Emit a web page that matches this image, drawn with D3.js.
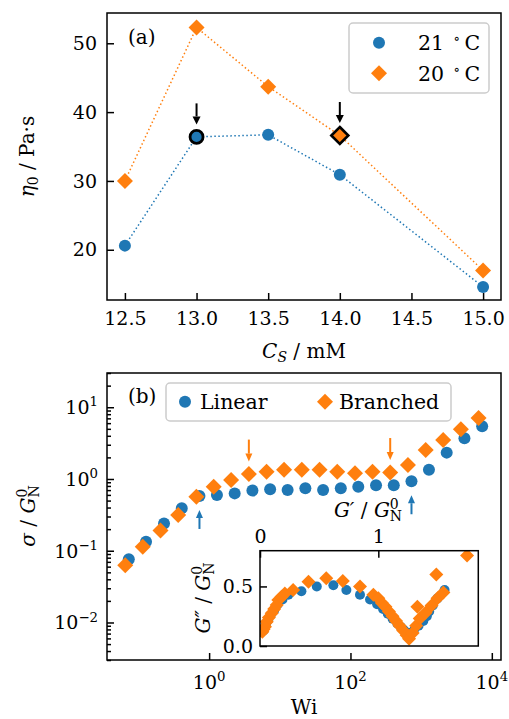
<!DOCTYPE html>
<html>
<head>
<meta charset="utf-8">
<script src="https://cdn.jsdelivr.net/npm/d3@7"></script>
<style>
  body { margin: 0; background: #fff; }
  text { font-family: "DejaVu Serif", serif; fill: #000; }
</style>
</head>
<body>
<svg id="fig" width="509" height="719"></svg>
<script>
// ---- Panel (a): zero-shear viscosity vs. salt concentration ----
const saltConc = [12.5, 13.0, 13.5, 14.0, 15.0];
const eta21 = [20.6, 36.4, 36.7, 30.9, 14.6];
const eta20 = [30.0, 52.3, 43.7, 36.6, 17.0];
const concTicks = [12.5, 13.0, 13.5, 14.0, 14.5, 15.0];
const etaTicks = [20, 30, 40, 50];
const marked21 = [1];   // highlighted sample, 21 °C
const marked20 = [3];   // highlighted sample, 20 °C

// ---- Panel (b): flow curves, stress vs. Weissenberg number ----
const wiLinear = [0.073, 0.128, 0.23, 0.41, 0.73, 1.29, 2.3, 4.1, 7.3, 12.9, 23, 41, 73, 129, 230, 410, 730, 1290, 2300, 4100, 7300];
const sigmaLinear = [0.076, 0.133, 0.24, 0.39, 0.58, 0.60, 0.63, 0.69, 0.72, 0.70, 0.74, 0.70, 0.74, 0.78, 0.82, 0.82, 0.93, 1.34, 2.33, 3.7, 5.43];
const wiBranched = [0.065, 0.115, 0.205, 0.365, 0.66, 1.16, 2.05, 3.65, 6.5, 11.5, 20.5, 36.5, 65, 116, 205, 365, 650, 1160, 2050, 3650, 6500];
const sigmaBranched = [0.063, 0.114, 0.191, 0.315, 0.566, 0.78, 0.97, 1.17, 1.26, 1.34, 1.34, 1.34, 1.26, 1.2, 1.26, 1.23, 1.57, 2.54, 3.5, 4.94, 7.1];
const wiTicks = [1, 100, 10000];
const sigmaTicks = [0.01, 0.1, 1, 10];
const arrowsLinear = [4, 16];     // arrows pointing up at these points
const arrowsBranched = [7, 15];   // arrows pointing down at these points

// ---- Inset: G'' vs G' ----
const gpLinear  = [0.03, 0.05, 0.07, 0.09, 0.12, 0.15, 0.19, 0.24, 0.35, 0.48, 0.62, 0.73, 0.845, 0.93, 0.99, 1.04, 1.08, 1.12, 1.16, 1.19, 1.22, 1.26, 1.30, 1.34, 1.38, 1.41, 1.43, 1.46, 1.50, 1.56];
const gppLinear = [0.13, 0.18, 0.22, 0.26, 0.30, 0.35, 0.39, 0.43, 0.46, 0.50, 0.51, 0.47, 0.43, 0.39, 0.35, 0.31, 0.27, 0.23, 0.19, 0.16, 0.13, 0.11, 0.13, 0.17, 0.21, 0.25, 0.29, 0.34, 0.40, 0.47];
const gpBranched  = [0.02, 0.03, 0.042, 0.057, 0.075, 0.099, 0.12, 0.141, 0.155, 0.183, 0.21, 0.28, 0.41, 0.56, 0.70, 0.845, 0.958, 1.0, 1.03, 1.06, 1.09, 1.12, 1.15, 1.18, 1.21, 1.24, 1.26, 1.29, 1.32, 1.35, 1.33, 1.40, 1.45, 1.50, 1.55, 1.49, 1.75];
const gppBranched = [0.12, 0.14, 0.162, 0.204, 0.24, 0.275, 0.31, 0.344, 0.386, 0.414, 0.44, 0.47, 0.54, 0.568, 0.545, 0.50, 0.43, 0.40, 0.36, 0.33, 0.29, 0.25, 0.21, 0.17, 0.13, 0.09, 0.06, 0.11, 0.17, 0.23, 0.33, 0.28, 0.34, 0.40, 0.45, 0.60, 0.76];
const gpTicks = [0, 1];
const gppTicks = [0.0, 0.5];

// ---- styling ----
const blue = "#1f77b4", orange = "#ff7f0e";
const TICK_FS = 19, LABEL_FS = 20, LEGEND_FS = 20.5;
const svg = d3.select("#fig");
svg.append("rect").attr("width", 509).attr("height", 719).attr("fill", "#fff");
const defs = svg.append("defs");

const diamond = s => `M0,${-s}L${s},0L0,${s}L${-s},0Z`;

function clip(id, box) {
  defs.append("clipPath").attr("id", id).append("rect")
    .attr("x", box.l).attr("y", box.t).attr("width", box.r - box.l).attr("height", box.b - box.t);
  return `url(#${id})`;
}

// Text with italic pieces, sub/superscripts and stacked sub+sup
function mathText(parent, parts, size) {
  const t = parent.append("text").style("font-size", size + "px");
  let cur = 0, prevLen = 0;
  parts.forEach(p => {
    const fs = p.shift ? size * 0.7 : size;
    const target = p.shift === "sup" ? -0.42 * size : p.shift === "sub" ? 0.2 * size : 0;
    const ts = t.append("tspan").text(p.t)
      .attr("dy", target - cur)
      .style("font-size", fs + "px")
      .style("font-style", p.it ? "italic" : "normal");
    if (p.stack) ts.attr("dx", -prevLen);
    cur = target;
    prevLen = ts.node().getComputedTextLength();
  });
  return t;
}

function styleAxis(g) {
  g.select(".domain").remove();
  g.attr("font-family", "DejaVu Serif").attr("font-size", TICK_FS).attr("color", "#000");
  g.selectAll(".tick line").attr("stroke-width", 1.5);
}

function arrow(g, x, yTip, dir, color, len, headLen, headW) {
  const yTail = yTip - dir * len, yBase = yTip - dir * headLen;
  g.append("line").attr("x1", x).attr("x2", x).attr("y1", yTail).attr("y2", yBase)
    .attr("stroke", color).attr("stroke-width", 2);
  g.append("path").attr("d", `M${x},${yTip}L${x - headW},${yBase}L${x + headW},${yBase}Z`).attr("fill", color);
}

function legendBox(g, x, y, w, h) {
  g.append("rect").attr("x", x).attr("y", y).attr("width", w).attr("height", h)
    .attr("rx", 4).attr("fill", "#fff").attr("fill-opacity", 0.85)
    .attr("stroke", "#cccccc").attr("stroke-width", 1.5);
}

// =================== Panel (a) ===================
const A = { l: 107, r: 501, t: 13, b: 300 };
const xA = d3.scaleLinear().domain([12.375, 15.125]).range([A.l, A.r]);
const yA = d3.scaleLinear().domain([12.7, 54.4]).range([A.b, A.t]);
const gA = svg.append("g");

gA.append("g").attr("transform", `translate(0,${A.b})`)
  .call(d3.axisBottom(xA).tickValues(concTicks).tickFormat(d3.format(".1f"))
    .tickSizeInner(-7).tickSizeOuter(0).tickPadding(12))
  .call(styleAxis);
gA.append("g").attr("transform", `translate(${A.l},0)`)
  .call(d3.axisLeft(yA).tickValues(etaTicks).tickFormat(d3.format("d"))
    .tickSizeInner(-7).tickSizeOuter(0).tickPadding(10))
  .call(styleAxis);

const plotA = gA.append("g").attr("clip-path", clip("clipA", A));
const lineA = (ys) => d3.line().x((d, i) => xA(saltConc[i])).y(d => yA(d))(ys);
plotA.append("path").attr("d", lineA(eta21)).attr("fill", "none").attr("stroke", blue)
  .attr("stroke-width", 1.5).attr("stroke-dasharray", "1.5 2.5");
plotA.append("path").attr("d", lineA(eta20)).attr("fill", "none").attr("stroke", orange)
  .attr("stroke-width", 1.5).attr("stroke-dasharray", "1.5 2.5");

eta21.forEach((v, i) => {
  const hl = marked21.includes(i);
  plotA.append("circle").attr("cx", xA(saltConc[i])).attr("cy", yA(v))
    .attr("r", hl ? 6.5 : 6).attr("fill", blue)
    .attr("stroke", hl ? "#000" : "none").attr("stroke-width", hl ? 2.8 : 0);
});
eta20.forEach((v, i) => {
  const hl = marked20.includes(i);
  plotA.append("path").attr("transform", `translate(${xA(saltConc[i])},${yA(v)})`)
    .attr("d", diamond(hl ? 8.5 : 8)).attr("fill", orange)
    .attr("stroke", hl ? "#000" : "none").attr("stroke-width", hl ? 2.6 : 0);
});
marked21.forEach(i => arrow(gA, xA(saltConc[i]), yA(eta21[i]) - 12.5, 1, "#000", 21, 8, 4));
marked20.forEach(i => arrow(gA, xA(saltConc[i]), yA(eta20[i]) - 12.5, 1, "#000", 21, 8, 4));

gA.append("text").attr("x", 128).attr("y", 44).style("font-size", LABEL_FS + "px").text("(a)");

// legend (a)
const legA = gA.append("g");
legendBox(legA, 349, 23, 140, 70);
legA.append("circle").attr("cx", 379).attr("cy", 42.7).attr("r", 6).attr("fill", blue);
legA.append("path").attr("transform", "translate(379,73.3)").attr("d", diamond(8)).attr("fill", orange);
[["21", 42.7], ["20", 73.3]].forEach(([n, y]) => {
  const t = legA.append("text").attr("x", 418).attr("y", y).attr("dy", "0.36em").style("font-size", LEGEND_FS + "px");
  t.append("tspan").text(n + " ");
  t.append("tspan").text("∘").attr("dy", -7).attr("dx", 3).style("font-size", "14px");
  t.append("tspan").text("C").attr("dy", 7).attr("dx", 4);
});

gA.append("rect").attr("x", A.l).attr("y", A.t).attr("width", A.r - A.l).attr("height", A.b - A.t)
  .attr("fill", "none").attr("stroke", "#000").attr("stroke-width", 1.5);

// axis labels (a)
mathText(gA.append("g").attr("transform", "translate(304,358)"),
  [{ t: "C", it: true }, { t: "S", it: true, shift: "sub" }, { t: " / mM" }], LABEL_FS)
  .attr("text-anchor", "middle");
mathText(gA.append("g").attr("transform", "translate(34,156.5) rotate(-90)"),
  [{ t: "η", it: true }, { t: "0", shift: "sub" }, { t: " / Pa·s" }], LABEL_FS)
  .attr("text-anchor", "middle");

// =================== Panel (b) ===================
const B = { l: 107, r: 501, t: 373, b: 660 };
const xB = d3.scaleLog().domain([Math.pow(10, -1.445), Math.pow(10, 4.13)]).range([B.l, B.r]);
const yB = d3.scaleLog().domain([3e-3, 30]).range([B.b, B.t]);
const gB = svg.append("g");
const decade = v => Math.round(Math.log10(v));
const powParts = v => [{ t: "10" }, { t: String(decade(v)).replace("-", "−"), shift: "sup" }];

gB.append("g").attr("transform", `translate(0,${B.b})`)
  .call(d3.axisBottom(xB).tickValues(wiTicks).tickFormat("").tickSizeInner(-7).tickSizeOuter(0))
  .call(styleAxis);
wiTicks.forEach(v => {
  mathText(gB.append("g").attr("transform", `translate(${xB(v)},${B.b + 29})`), powParts(v), TICK_FS)
    .attr("text-anchor", "middle");
});
const sigmaMinor = yB.ticks().filter(v => !sigmaTicks.some(m => Math.abs(m - v) / v < 1e-6));
gB.append("g").attr("transform", `translate(${B.l},0)`)
  .call(d3.axisLeft(yB).tickValues(sigmaMinor).tickFormat("").tickSizeInner(-4).tickSizeOuter(0))
  .call(styleAxis);
gB.append("g").attr("transform", `translate(${B.l},0)`)
  .call(d3.axisLeft(yB).tickValues(sigmaTicks).tickFormat("").tickSizeInner(-7).tickSizeOuter(0))
  .call(styleAxis);
sigmaTicks.forEach(v => {
  mathText(gB.append("g").attr("transform", `translate(${B.l - 9},${yB(v) + 7})`), powParts(v), TICK_FS)
    .attr("text-anchor", "end");
});

const plotB = gB.append("g").attr("clip-path", clip("clipB", B));
sigmaLinear.forEach((v, i) => {
  plotB.append("circle").attr("cx", xB(wiLinear[i])).attr("cy", yB(v)).attr("r", 6).attr("fill", blue);
});
sigmaBranched.forEach((v, i) => {
  plotB.append("path").attr("transform", `translate(${xB(wiBranched[i])},${yB(v)})`)
    .attr("d", diamond(8)).attr("fill", orange);
});
arrowsBranched.forEach(i => arrow(gB, xB(wiBranched[i]), yB(sigmaBranched[i]) - 12.5, 1, orange, 22, 8, 3.5));
arrowsLinear.forEach(i => arrow(gB, xB(wiLinear[i]), yB(sigmaLinear[i]) + 14, -1, blue, 19, 8, 3.5));

gB.append("text").attr("x", 128).attr("y", 403).style("font-size", LABEL_FS + "px").text("(b)");

// legend (b)
const legB = gB.append("g");
legendBox(legB, 166, 383, 285, 38);
legB.append("circle").attr("cx", 185).attr("cy", 401.7).attr("r", 6).attr("fill", blue);
legB.append("text").attr("x", 200).attr("y", 401.7).attr("dy", "0.36em").style("font-size", LEGEND_FS + "px").text("Linear");
legB.append("path").attr("transform", "translate(325,401.7)").attr("d", diamond(8)).attr("fill", orange);
legB.append("text").attr("x", 339).attr("y", 401.7).attr("dy", "0.36em").style("font-size", LEGEND_FS + "px").text("Branched");

gB.append("rect").attr("x", B.l).attr("y", B.t).attr("width", B.r - B.l).attr("height", B.b - B.t)
  .attr("fill", "none").attr("stroke", "#000").attr("stroke-width", 1.5);

// axis labels (b)
gB.append("text").attr("x", 304).attr("y", 714).attr("text-anchor", "middle")
  .style("font-size", LABEL_FS + "px").text("Wi");
mathText(gB.append("g").attr("transform", "translate(35,516) rotate(-90)"),
  [{ t: "σ", it: true }, { t: " / " }, { t: "G", it: true }, { t: "N", shift: "sub" }, { t: "0", shift: "sup", stack: true }], LABEL_FS)
  .attr("text-anchor", "middle");

// =================== Inset ===================
const I = { l: 260, r: 478.3, t: 550.7, b: 646 };
const xI = d3.scaleLinear().domain([0, 1.845]).range([I.l, I.r]);
const yI = d3.scaleLinear().domain([0, 0.8]).range([I.b, I.t]);
const gI = svg.append("g");
gI.append("rect").attr("x", I.l).attr("y", I.t).attr("width", I.r - I.l).attr("height", I.b - I.t).attr("fill", "#fff");

gI.append("g").attr("transform", `translate(0,${I.t})`)
  .call(d3.axisTop(xI).tickValues(gpTicks).tickFormat(d3.format("d"))
    .tickSizeInner(-7).tickSizeOuter(0).tickPadding(8))
  .call(styleAxis);
gI.append("g").attr("transform", `translate(${I.l},0)`)
  .call(d3.axisLeft(yI).tickValues(gppTicks).tickFormat(d3.format(".1f"))
    .tickSizeInner(-7).tickSizeOuter(0).tickPadding(7))
  .call(styleAxis);

const plotI = gI.append("g").attr("clip-path", clip("clipI", I));
gppLinear.forEach((v, i) => {
  plotI.append("circle").attr("cx", xI(gpLinear[i])).attr("cy", yI(v)).attr("r", 5).attr("fill", blue);
});
gppBranched.forEach((v, i) => {
  plotI.append("path").attr("transform", `translate(${xI(gpBranched[i])},${yI(v)})`)
    .attr("d", diamond(7)).attr("fill", orange);
});

gI.append("rect").attr("x", I.l).attr("y", I.t).attr("width", I.r - I.l).attr("height", I.b - I.t)
  .attr("fill", "none").attr("stroke", "#000").attr("stroke-width", 1.5);

mathText(gI.append("g").attr("transform", "translate(368,517)"),
  [{ t: "G′", it: true }, { t: " / " }, { t: "G", it: true }, { t: "N", shift: "sub" }, { t: "0", shift: "sup", stack: true }], LABEL_FS)
  .attr("text-anchor", "middle");
mathText(gI.append("g").attr("transform", "translate(210,598) rotate(-90)"),
  [{ t: "G″", it: true }, { t: " / " }, { t: "G", it: true }, { t: "N", shift: "sub" }, { t: "0", shift: "sup", stack: true }], LABEL_FS)
  .attr("text-anchor", "middle");
</script>
</body>
</html>
